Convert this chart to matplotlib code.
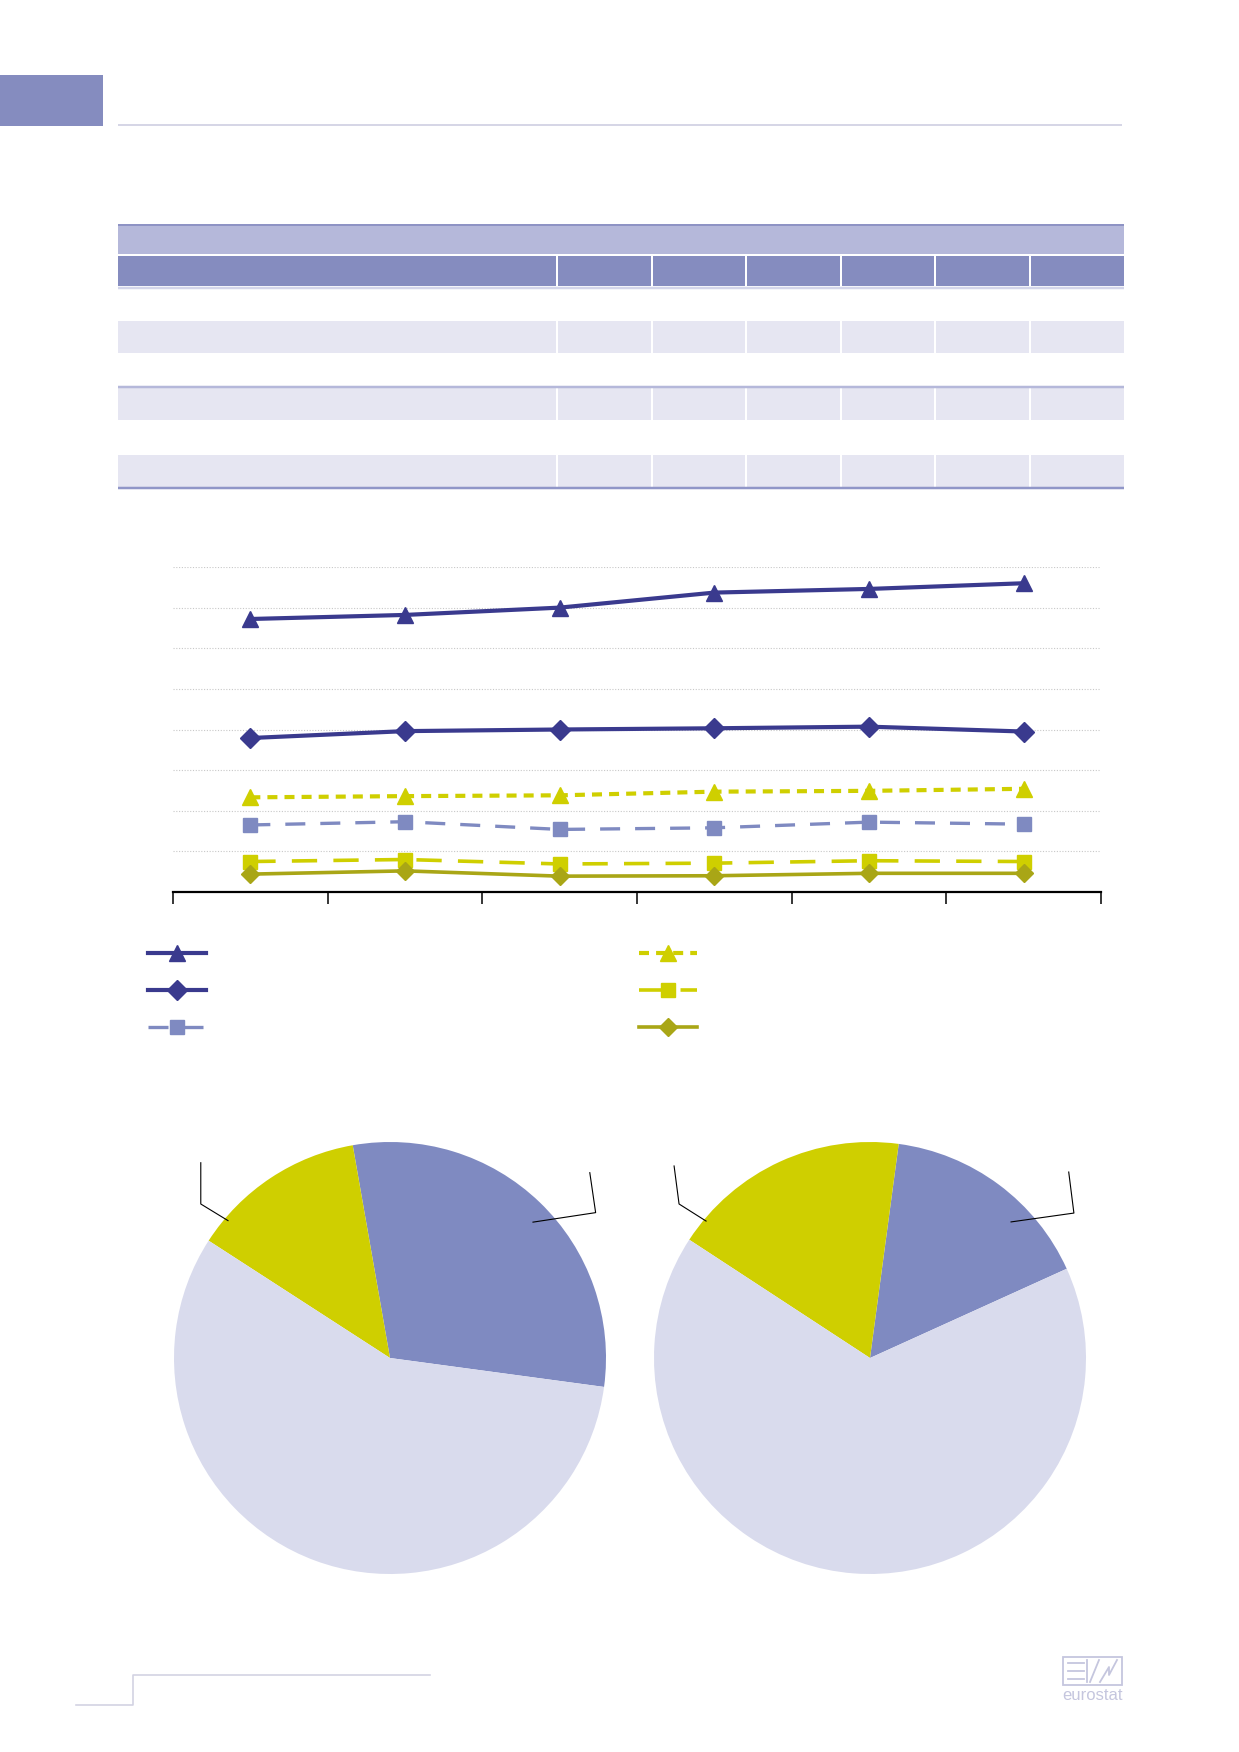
import matplotlib
matplotlib.use("Agg")
import matplotlib.pyplot as plt
from matplotlib.patches import Rectangle
import numpy as np

# ---------------- data ----------------
# line chart: six periods, eight gridline units
series_a = [6.72, 6.82, 7.00, 7.37, 7.46, 7.60]   # navy, triangles, solid
series_b = [3.79, 3.96, 4.00, 4.03, 4.07, 3.95]   # navy, diamonds, solid
series_c = [1.65, 1.73, 1.54, 1.58, 1.72, 1.67]   # light blue, squares, dashed
series_d = [2.33, 2.36, 2.38, 2.47, 2.49, 2.54]   # yellow, triangles, dotted
series_e = [0.75, 0.80, 0.69, 0.71, 0.77, 0.75]   # yellow, squares, dashed
series_f = [0.44, 0.52, 0.39, 0.40, 0.46, 0.46]   # olive, diamonds, solid

# pie charts: shares (blue, yellow, lavender)
pie_left_shares = [29.9, 13.1, 57.0]
pie_right_shares = [16.1, 17.9, 66.0]

# table structure (no visible text in the source)
n_value_cols = 6
row_shaded = [False, True, False, True, False, True]

# ---------------- colours ----------------
NAVY = "#3a3a8e"
LBLUE = "#7f8ac1"
YELLOW = "#cfcf00"
OLIVE = "#a9a616"
LAV = "#d9dbed"
HEAD = "#858cbf"
BAND = "#b5b8da"
SHADE = "#e6e6f2"
PAGE_LINE = "#d6d6e6"
LOGO = "#c5c6de"

W, H = 1239, 1752
fig = plt.figure(figsize=(W / 100, H / 100), dpi=100)
fig.patch.set_facecolor("white")


def box(x0, y0, x1, y1):
    return [x0 / W, 1 - y1 / H, (x1 - x0) / W, (y1 - y0) / H]


PX = 72 / 100  # points per pixel

# ---------------- page decoration ----------------
page = fig.add_axes([0, 0, 1, 1])
page.set_xlim(0, W)
page.set_ylim(H, 0)
page.axis("off")

page.add_patch(Rectangle((0, 75), 103, 51, color=HEAD, lw=0))
page.plot([118, 1122], [125, 125], color=PAGE_LINE, lw=2 * PX, solid_capstyle="butt")

# table
col_edges = [118, 557] + [557 + 94.5 * (i + 1) for i in range(n_value_cols)]
row_edges = [288, 321, 353, 387, 420, 455, 488]
tx0, tx1 = col_edges[0], col_edges[-1]
page.add_patch(Rectangle((tx0, 224), tx1 - tx0, 30, color=BAND, lw=0))
page.plot([tx0, tx1], [225, 225], color="#8e93c4", lw=2 * PX, solid_capstyle="butt")
page.add_patch(Rectangle((tx0, 256), tx1 - tx0, 30, color=HEAD, lw=0))
page.plot([tx0, tx1], [287.5, 287.5], color="#d3d5ea", lw=2.5 * PX, solid_capstyle="butt")
for c in col_edges[1:-1]:
    page.plot([c, c], [256, 286], color="white", lw=2 * PX, solid_capstyle="butt")
for i, shaded in enumerate(row_shaded):
    r0, r1 = row_edges[i], row_edges[i + 1]
    if shaded:
        page.add_patch(Rectangle((tx0, r0), tx1 - tx0, r1 - r0, color=SHADE, lw=0))
        for c in col_edges[1:-1]:
            page.plot([c, c], [r0, r1], color="white", lw=2 * PX, solid_capstyle="butt")
page.plot([tx0, tx1], [387, 387], color=BAND, lw=2.5 * PX, solid_capstyle="butt")
page.plot([tx0, tx1], [488, 488], color="#9096c8", lw=2.5 * PX, solid_capstyle="butt")

# footer
page.plot([76, 133, 133, 430], [1705, 1705, 1675, 1675], color="#d2d2e2", lw=1.6 * PX)

# logo
page.add_patch(Rectangle((1063, 1657), 59, 28, fill=False, ec=LOGO, lw=1.8 * PX))
for yy in (1663, 1671, 1679):
    page.plot([1068, 1084], [yy, yy], color=LOGO, lw=1.8 * PX)
page.plot([1087, 1087], [1660, 1682], color=LOGO, lw=1.8 * PX)
page.plot([1090, 1099], [1682, 1660], color=LOGO, lw=1.8 * PX)
page.plot([1100, 1109, 1109, 1117], [1682, 1667, 1675, 1660], color=LOGO, lw=1.8 * PX)
page.text(1092.5, 1695, "eurostat", ha="center", va="center", fontsize=12,
          color=LOGO, family="Liberation Sans")

# ---------------- line chart ----------------
ax = fig.add_axes(box(173, 567, 1101, 892))
x = np.arange(len(series_a))
h_d, = ax.plot(x, series_d, color=YELLOW, lw=3, dashes=(2.4, 1.7), marker="^", ms=11, zorder=3)
h_c, = ax.plot(x, series_c, color=LBLUE, lw=2.4, dashes=(6, 4.5), marker="s", ms=9.5, zorder=3)
h_e, = ax.plot(x, series_e, color=YELLOW, lw=2.6, dashes=(7, 4.5), marker="s", ms=9.5, zorder=3)
h_f, = ax.plot(x, series_f, color=OLIVE, lw=2.6, marker="D", ms=9, zorder=4)
h_b, = ax.plot(x, series_b, color=NAVY, lw=3, marker="D", ms=10, zorder=5)
h_a, = ax.plot(x, series_a, color=NAVY, lw=3, marker="^", ms=11, zorder=5)

ax.set_xlim(-0.5, len(x) - 0.5)
ax.set_ylim(0, 8)
ax.set_xticks(np.arange(-0.5, len(x)))
ax.set_xticklabels([])
ax.set_yticks(np.arange(1, 9))
ax.tick_params(axis="y", left=False, labelleft=False)
ax.grid(axis="y", color="#c8c8c8", ls=(0, (1, 1.5)), lw=0.8)
ax.set_axisbelow(True)
for s in ("top", "left", "right"):
    ax.spines[s].set_visible(False)
ax.spines["bottom"].set_linewidth(1.6)
ax.spines["bottom"].set_zorder(6)
ax.tick_params(axis="x", direction="out", length=8.5, width=1.1, color="black")
ax.patch.set_alpha(0)

leg_kw = dict(frameon=False, fontsize=10, handlelength=4.2, handleheight=1.5,
              labelspacing=1.45, borderpad=0, borderaxespad=0, handletextpad=0,
              numpoints=1, loc="upper left", bbox_transform=fig.transFigure)
leg1 = ax.legend([h_a, h_b, h_c], ["", "", ""], bbox_to_anchor=(148 / W, 1 - 946 / H), **leg_kw)
ax.add_artist(leg1)
ax.legend([h_d, h_e, h_f], ["", "", ""], bbox_to_anchor=(639 / W, 1 - 946 / H), **leg_kw)

# ---------------- pie charts ----------------
pie_colors = [LBLUE, YELLOW, LAV]


def draw_pie(rect, shares, start, leaders):
    pa = fig.add_axes(rect)
    pa.pie(shares, colors=pie_colors, startangle=start, counterclock=True,
           radius=1, wedgeprops=dict(linewidth=0))
    for lx, ly in leaders:
        pa.plot(lx, ly, color="black", lw=0.8)
    pa.set_xlim(-1, 1)
    pa.set_ylim(-1, 1)
    pa.set_aspect("equal")
    pa.axis("off")


draw_pie(box(174, 1142, 606, 1574), pie_left_shares, -7.7,
         [([-0.876, -0.876, -0.750], [0.904, 0.713, 0.636]),
          ([0.925, 0.952, 0.662], [0.858, 0.673, 0.629])])
draw_pie(box(654, 1142, 1086, 1574), pie_right_shares, 24.4,
         [([-0.907, -0.884, -0.759], [0.889, 0.713, 0.634]),
          ([0.920, 0.944, 0.653], [0.861, 0.671, 0.630])])

fig.savefig("out.png", dpi=100, facecolor="white")
